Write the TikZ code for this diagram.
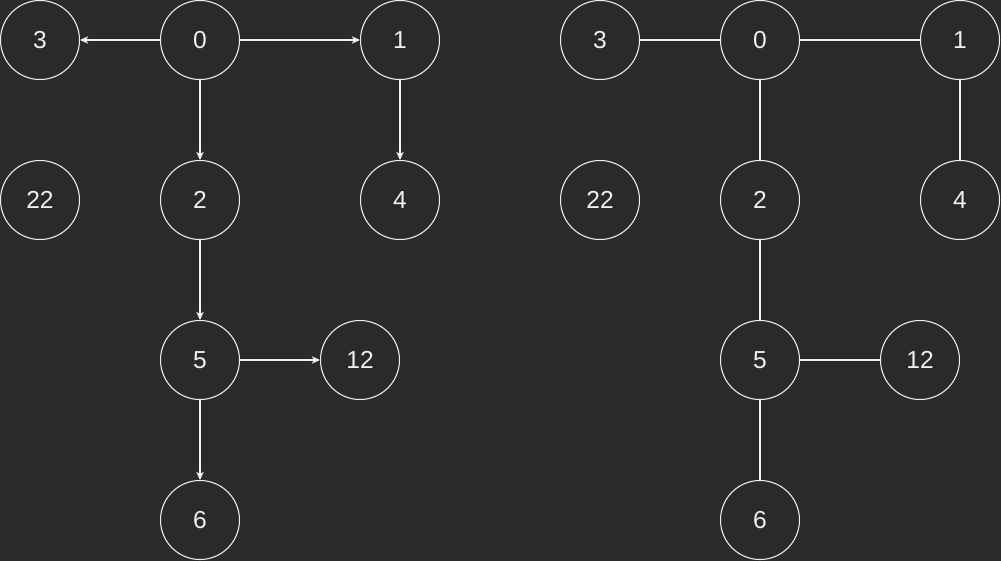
\documentclass[tikz,border=0pt]{standalone}
\usepackage{fontspec}
\setmainfont{Liberation Sans}
\usepackage{xcolor}
\usepackage{tikz}
\usetikzlibrary{arrows.meta}

\definecolor{bgdark}{HTML}{2A2A2A}
\definecolor{fgline}{HTML}{F0F0F0}

\tikzset{
    vertex/.style={circle, draw=fgline, fill=bgdark, line width=0.6pt,
        minimum size=1.58cm, inner sep=0pt, text=fgline,
        font=\fontsize{14}{16}\selectfont},
    edge/.style={draw=fgline, line width=0.6pt},
    arc/.style={edge, -{Stealth[length=4.6pt, width=4.2pt, inset=1.2pt]}}
}

\begin{document}
\begin{tikzpicture}[x=0.02cm, y=-0.02cm]
        \fill[bgdark] (0,0) rectangle (1001,561);
        \useasboundingbox (0,0) rectangle (1001,561);

        % directed version
        \node[vertex] (l3)  at (40,40)   {3};
        \node[vertex] (l0)  at (200,40)  {0};
        \node[vertex] (l1)  at (400,40)  {1};
        \node[vertex] (l22) at (40,200)  {22};
        \node[vertex] (l2)  at (200,200) {2};
        \node[vertex] (l4)  at (400,200) {4};
        \node[vertex] (l5)  at (200,360) {5};
        \node[vertex] (l12) at (360,360) {12};
        \node[vertex] (l6)  at (200,520) {6};

        \draw[arc] (l0) -- (l3);
        \draw[arc] (l0) -- (l1);
        \draw[arc] (l0) -- (l2);
        \draw[arc] (l1) -- (l4);
        \draw[arc] (l2) -- (l5);
        \draw[arc] (l5) -- (l12);
        \draw[arc] (l5) -- (l6);

        % undirected version
        \node[vertex] (r3)  at (600,40)  {3};
        \node[vertex] (r0)  at (760,40)  {0};
        \node[vertex] (r1)  at (960,40)  {1};
        \node[vertex] (r22) at (600,200) {22};
        \node[vertex] (r2)  at (760,200) {2};
        \node[vertex] (r4)  at (960,200) {4};
        \node[vertex] (r5)  at (760,360) {5};
        \node[vertex] (r12) at (920,360) {12};
        \node[vertex] (r6)  at (760,520) {6};

        \draw[edge] (r0) -- (r3);
        \draw[edge] (r0) -- (r1);
        \draw[edge] (r0) -- (r2);
        \draw[edge] (r1) -- (r4);
        \draw[edge] (r2) -- (r5);
        \draw[edge] (r5) -- (r12);
        \draw[edge] (r5) -- (r6);
    \end{tikzpicture}
\end{document}
